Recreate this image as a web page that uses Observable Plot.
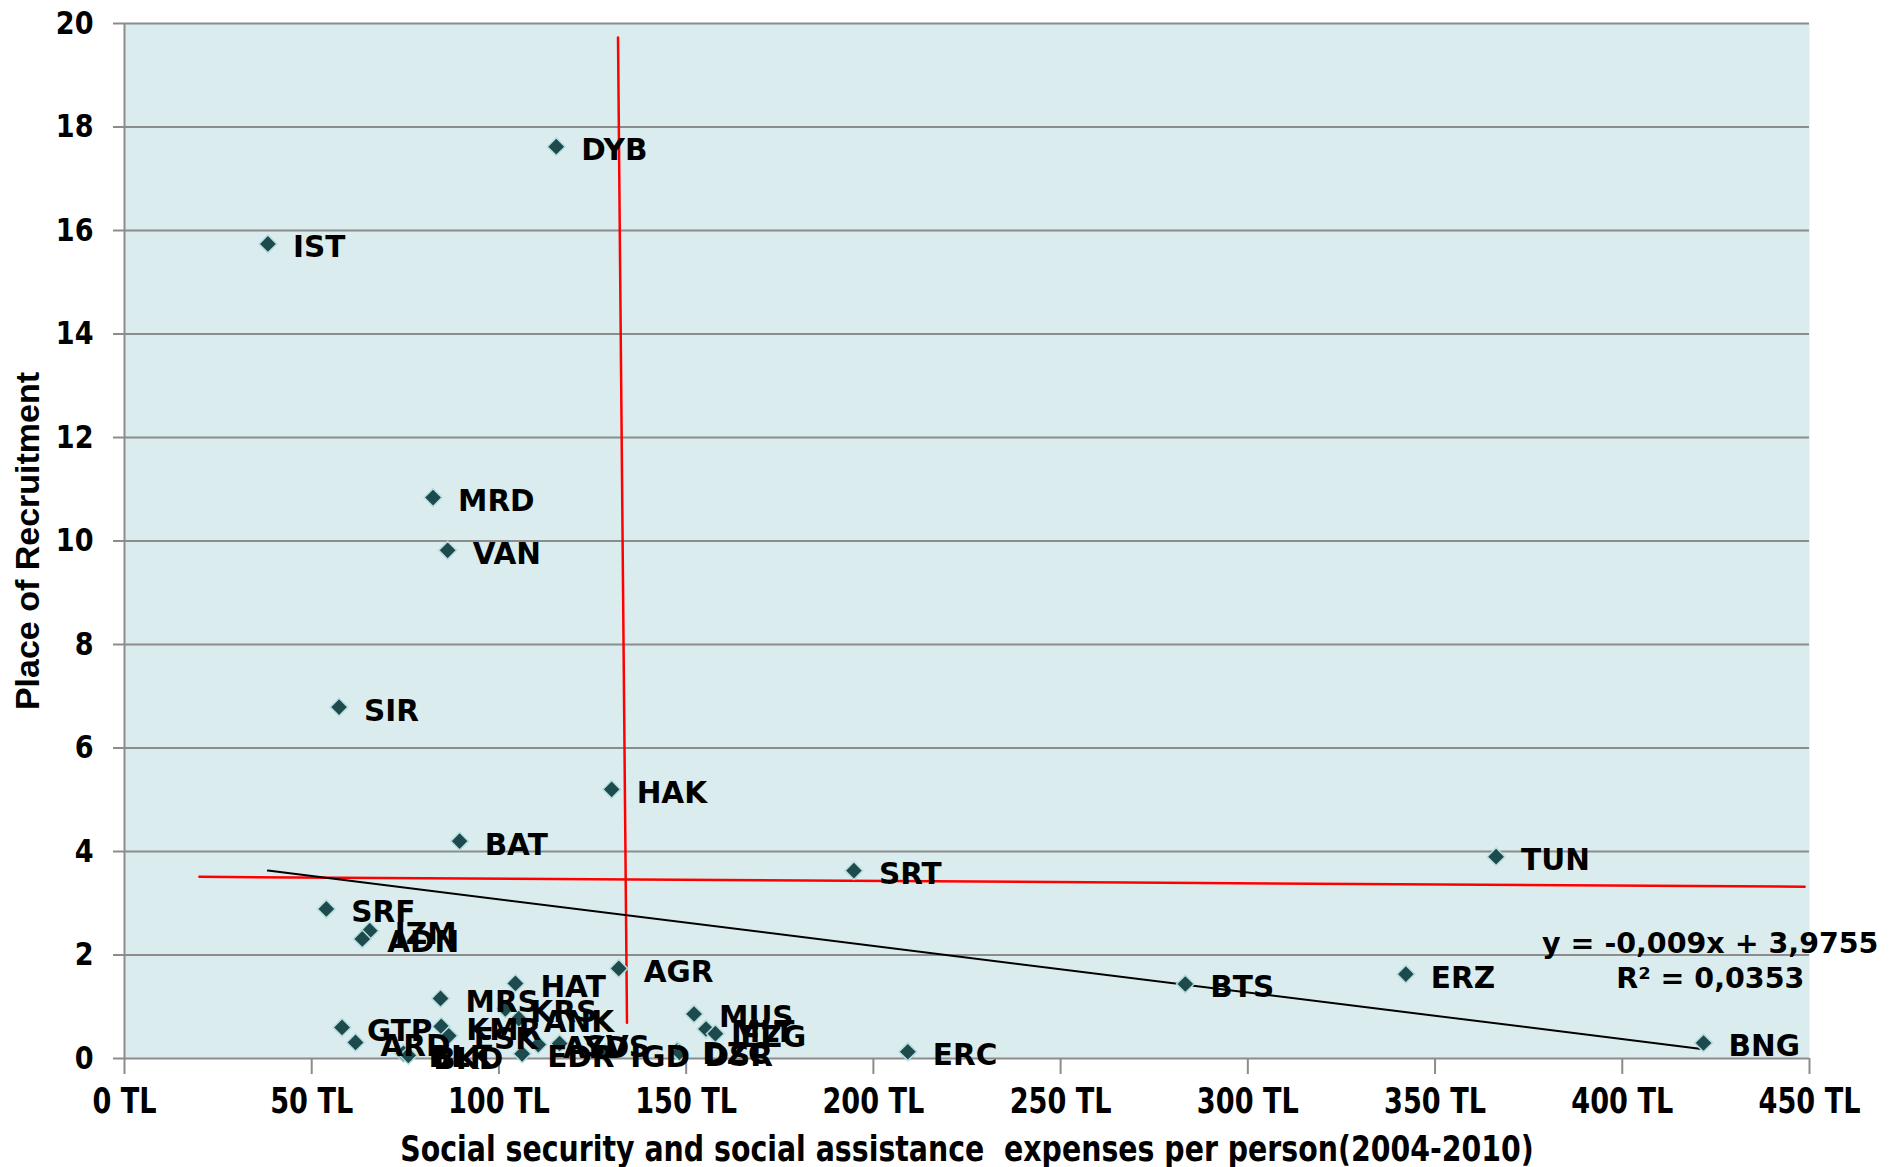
<!DOCTYPE html>
<html>
<head>
<meta charset="utf-8">
<script src="https://cdn.jsdelivr.net/npm/d3@7"></script>
<script src="https://cdn.jsdelivr.net/npm/@observablehq/plot@0.6"></script>
<style>
  html, body { margin: 0; padding: 0; background: #ffffff; }
  #chart svg { display: block; }
</style>
</head>
<body>
<div id="chart"></div>
<script>
// ---- data ----
const codes = ["DYB","IST","MRD","VAN","SIR","HAK","BAT","SRT","TUN","SRF","IZM","ADN","AGR","HAT","MRS","KRS","ANK","KMR","GTP","ARD","ESK","BLK","BKD","EDR","AYD","SVS","IGD","DZC","DSR","MUS","MLT","EZG","BTS","ERZ","ERC","BNG"];
const expenses = [115.3,38.3,82.4,86.3,57.3,130.1,89.5,194.8,366.3,53.9,65.5,63.5,132.0,104.4,84.4,101.7,105.3,84.6,58.1,61.7,86.6,74.5,75.8,106.2,110.5,116.2,128.4,147.6,148.2,152.1,155.3,157.8,283.3,342.2,209.2,421.7];
const places = [17.62,15.74,10.84,9.82,6.79,5.20,4.20,3.63,3.90,2.89,2.47,2.31,1.74,1.45,1.16,0.96,0.77,0.62,0.60,0.31,0.44,0.10,0.06,0.09,0.27,0.29,0.10,0.15,0.12,0.86,0.57,0.48,1.44,1.63,0.13,0.30];

const xTicks = [0,50,100,150,200,250,300,350,400,450];
const yTicks = [0,2,4,6,8,10,12,14,16,18,20];

// trendline as printed on the chart
const trendSlope = -0.009;
const trendIntercept = 3.9755;
const equationLines = ["y = -0,009x + 3,9755", "R² = 0,0353"];

// hand-drawn red reference lines (end points)
const redVerticalX = [131.8, 134.2];
const redVerticalY = [19.73, 0.69];
const redHorizontalX = [20.0, 448.7];
const redHorizontalY = [3.51, 3.32];

const xTitle = "Social security and social assistance  expenses per person(2004-2010)";
const yTitle = "Place of Recruitment";

// ---- derived tables ----
const points = codes.map((c, i) => ({code: c, x: expenses[i], y: places[i]}));
const [xmin, xmax] = d3.extent(expenses);
const trend = [xmin, xmax].map(x => ({x, y: trendSlope * x + trendIntercept}));
const redV = redVerticalX.map((x, i) => ({x, y: redVerticalY[i]}));
const redH = redHorizontalX.map((x, i) => ({x, y: redHorizontalY[i]}));
const eqTable = equationLines.map((t, i) => ({t, i}));

const grey = "#8c8c8c";

const chart = Plot.plot({
  width: 1890,
  height: 1167,
  marginLeft: 124,
  marginRight: 81,
  marginTop: 23,
  marginBottom: 109,
  x: {domain: [0, 450]},
  y: {domain: [0, 20]},
  style: {fontFamily: "DejaVu Sans", background: "#ffffff", overflow: "visible"},
  marks: [
    Plot.frame({fill: "#daeced", stroke: "none"}),
    Plot.ruleY(yTicks, {stroke: grey, strokeWidth: 2}),
    Plot.ruleX([0], {stroke: grey, strokeWidth: 2}),
    Plot.axisY({ticks: yTicks, tickSize: 11, tickPadding: 20, stroke: grey, strokeWidth: 2, fill: "black",
      fontSize: 32, fontWeight: "bold", label: null, tickFormat: d => String(d)}),
    Plot.axisX({ticks: xTicks, tickSize: 16, tickPadding: 13, stroke: grey, strokeWidth: 2, fill: "black",
      fontSize: 36, fontWeight: "bold", label: null, tickFormat: d => `${d} TL`}),
    Plot.line(redV, {x: "x", y: "y", stroke: "#ff0000", strokeWidth: 2.5}),
    Plot.line(redH, {x: "x", y: "y", stroke: "#ff0000", strokeWidth: 2.5}),
    Plot.line(trend, {x: "x", y: "y", stroke: "#000000", strokeWidth: 2}),
    Plot.dot(points, {x: "x", y: "y", symbol: "diamond2", r: 8, fill: "#1d4a4c", stroke: "#b6dde0", strokeWidth: 1.5}),
    Plot.text(points, {x: "x", y: "y", text: "code", textAnchor: "start", lineAnchor: "middle", dx: 25, dy: 4,
      fontSize: 29.5, fontWeight: "bold", fill: "#000000"}),
    Plot.text(eqTable, {x: () => 423.5, y: d => d.i === 0 ? 2.22 : 1.53, text: "t", textAnchor: "middle", lineAnchor: "middle",
      fontSize: 28.5, fontWeight: "bold", fill: "#000000"}),
    Plot.text([xTitle], {frameAnchor: "bottom", dy: 91, lineAnchor: "middle", textAnchor: "middle",
      fontSize: 36, fontWeight: "bold", fill: "#000000"}),
    Plot.text([yTitle], {frameAnchor: "left", dx: -96, rotate: -90, lineAnchor: "middle", textAnchor: "middle",
      fontFamily: "Liberation Sans", fontSize: 34, fontWeight: "bold", fill: "#000000"})
  ]
});

document.getElementById("chart").appendChild(chart);

// condense text horizontally (the reference uses a narrow bold face)
function condense(texts, scale, anchor) {
  texts.forEach(t => {
    const g = document.createElementNS("http://www.w3.org/2000/svg", "g");
    t.parentNode.insertBefore(g, t);
    g.appendChild(t);
    const bb = g.getBBox();
    const cx = anchor === "end" ? bb.x + bb.width : bb.x + bb.width / 2;
    g.setAttribute("transform", `translate(${cx},0) scale(${scale},1) translate(${-cx},0)`);
  });
}

const svg = chart.tagName.toLowerCase() === "svg" ? chart : chart.querySelector("svg");
const xTickTexts = Array.from(svg.querySelectorAll('g[aria-label="x-axis tick label"] text'));
const yTickTexts = Array.from(svg.querySelectorAll('g[aria-label="y-axis tick label"] text'));
const sampleX = xTickTexts.find(t => t.textContent === "450 TL");
if (sampleX) condense(xTickTexts, 102 / sampleX.getComputedTextLength(), "middle");
const sampleY = yTickTexts.find(t => t.textContent === "20");
if (sampleY) condense(yTickTexts, 37.7 / sampleY.getComputedTextLength(), "end");
const xt = Array.from(svg.querySelectorAll("text")).find(t => t.textContent === xTitle);
if (xt) {
  xt.style.whiteSpace = "pre";
  condense([xt], 1134 / xt.getComputedTextLength(), "middle");
}
</script>
</body>
</html>
